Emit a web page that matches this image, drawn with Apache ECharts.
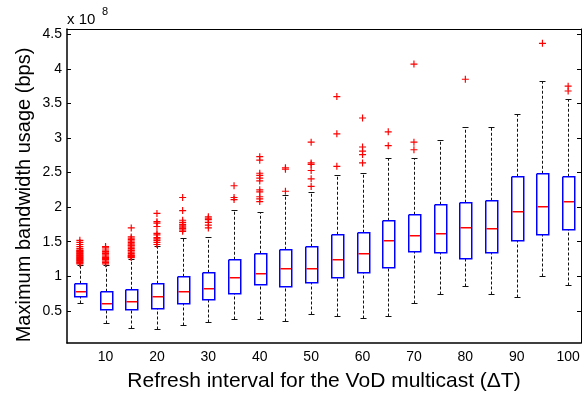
<!DOCTYPE html>
<html><head><meta charset="utf-8">
<script src="https://cdn.jsdelivr.net/npm/echarts@6/dist/echarts.min.js"></script>
<style>html,body{margin:0;padding:0;background:#fff}#c{width:584px;height:393px}</style>
</head><body><div id="c"></div>
<script>
// Values in units of 1e8 bps
const categories = ['5','10','15','20','25','30','35','40','45','50','55','60','65','70','75','80','85','90','95','100'];
const whiskerLow  = [0.62,0.32,0.25,0.24,0.30,0.34,0.38,0.38,0.36,0.45,0.42,0.40,0.42,0.61,0.74,0.865,0.75,0.70,1.01,0.87];
const q1          = [0.72,0.52,0.52,0.54,0.62,0.667,0.76,0.884,0.855,0.92,0.986,1.068,1.135,1.366,1.35,1.265,1.35,1.53,1.61,1.69];
const median      = [0.79,0.62,0.64,0.71,0.79,0.83,0.985,1.048,1.12,1.12,1.25,1.33,1.52,1.60,1.63,1.71,1.70,1.94,2.01,2.09];
const q3          = [0.90,0.78,0.81,0.90,1.01,1.058,1.246,1.333,1.40,1.444,1.618,1.647,1.81,1.90,2.04,2.08,2.10,2.45,2.50,2.45];
const whiskerHigh = [1.16,1.16,1.25,1.44,1.555,1.564,1.965,1.936,2.17,2.22,2.46,2.50,2.71,2.71,2.97,3.16,3.16,3.35,3.83,3.57];
const outliers = [
  [1.18,1.19,1.2,1.21,1.22,1.23,1.24,1.25,1.26,1.27,1.28,1.29,1.3,1.31,1.32,1.33,1.34,1.35,1.36,1.37,1.38,1.4,1.43,1.46,1.49,1.52],
  [1.18,1.2,1.22,1.24,1.26,1.27,1.29,1.31,1.33,1.34,1.36,1.38,1.41,1.43],
  [1.27,1.28,1.29,1.3,1.31,1.33,1.35,1.37,1.38,1.4,1.42,1.44,1.45,1.47,1.49,1.51,1.53,1.55,1.57,1.70],
  [1.46,1.49,1.52,1.54,1.56,1.6,1.62,1.72,1.77,1.79,1.91],
  [1.65,1.67,1.69,1.71,1.73,1.75,1.78,1.81,1.95,2.14],
  [1.70,1.74,1.78,1.82,1.84,1.86],
  [2.11,2.14,2.31],
  [2.08,2.12,2.15,2.22,2.25,2.38,2.42,2.46,2.49,2.68,2.73],
  [2.23,2.55,2.57],
  [2.30,2.41,2.53,2.62,2.64,2.94],
  [2.59,3.06,3.60],
  [2.64,2.76,2.81,2.87,3.29],
  [2.89,3.09],
  [2.83,2.94,4.07],
  [],
  [3.85],
  [],
  [],
  [4.37],
  [3.68,3.75]
];
const yTicks = [0.5,1,1.5,2,2.5,3,3.5,4,4.5];
const yMin = 0.035, yMax = 4.577;

const boxData = categories.map((c, i) => [i, whiskerLow[i], q1[i], median[i], q3[i], whiskerHigh[i]]);
const outlierData = [];
outliers.forEach((arr, i) => arr.forEach(v => outlierData.push([i, v])));

function renderBox(params, api) {
  const i = api.value(0);
  const cx = api.coord([i, api.value(3)])[0];
  const n = Math.round(cx);
  const x = n + 0.5;
  const P = v => Math.round(api.coord([i, v])[1]);
  const yl = P(api.value(1)) + 0.5, y1 = P(api.value(2)), ym = P(api.value(3)), y3 = P(api.value(4)), yh = P(api.value(5)) + 0.5;
  const o = 0.75, hw = 6, cw = 3;
  const dash = () => ({stroke: '#111111', lineWidth: 1, lineDash: [3, 2], fill: 'none'});
  const solid = () => ({stroke: '#111111', lineWidth: 1, fill: 'none'});
  const L = n - hw + o, R = n + hw + o, T = y3 + o, B = y1 + o;
  return {type: 'group', silent: true, children: [
    {type: 'line', shape: {x1: x, y1: T, x2: x, y2: yh}, style: dash()},
    {type: 'line', shape: {x1: x, y1: yl, x2: x, y2: B}, style: dash()},
    {type: 'line', shape: {x1: x - cw, y1: yh, x2: x + cw, y2: yh}, style: solid()},
    {type: 'line', shape: {x1: x - cw, y1: yl, x2: x + cw, y2: yl}, style: solid()},
    {type: 'polyline', shape: {points: [[L, T], [R, T], [R, B], [L, B], [L, T]]},
     style: {stroke: '#0000ff', lineWidth: 1.5, fill: 'none', lineJoin: 'miter'}},
    {type: 'line', shape: {x1: L + 0.75, y1: ym + o, x2: R - 0.75, y2: ym + o}, style: {stroke: '#ff0000', lineWidth: 1.5, fill: 'none'}}
  ]};
}

const FONT = 'Liberation Sans, Arial, Helvetica, sans-serif';
const chart = echarts.init(document.getElementById('c'), null, {renderer: 'canvas'});
chart.setOption({
  animation: false,
  backgroundColor: '#fff',
  grid: {left: 67, right: 3, top: 29, bottom: 50, containLabel: false},
  xAxis: [
    {type: 'category', data: categories, boundaryGap: true, position: 'bottom',
     axisLine: {lineStyle: {color: '#000', width: 1.5}},
     axisTick: {inside: true, alignWithLabel: true, interval: 0, length: 4, lineStyle: {color: '#000'}},
     axisLabel: {interval: (idx) => idx % 2 === 1, color: '#000', fontSize: 14, fontFamily: FONT, margin: 7},
     splitLine: {show: false}},
    {type: 'category', data: categories, boundaryGap: true, position: 'top',
     axisLine: {lineStyle: {color: '#000', width: 1}},
     axisTick: {inside: true, alignWithLabel: true, interval: 0, length: 4, lineStyle: {color: '#000'}},
     axisLabel: {show: false}, splitLine: {show: false}}
  ],
  yAxis: [
    {type: 'value', min: yMin, max: yMax, position: 'left',
     axisLine: {show: true, lineStyle: {color: '#000', width: 1.5}},
     axisTick: {show: true, inside: true, length: 4, customValues: yTicks, lineStyle: {color: '#000'}},
     axisLabel: {customValues: yTicks, color: '#000', fontSize: 14, fontFamily: FONT, margin: 5},
     splitLine: {show: false}},
    {type: 'value', min: yMin, max: yMax, position: 'right',
     axisLine: {show: true, lineStyle: {color: '#000', width: 1}},
     axisTick: {show: true, inside: true, length: 4, customValues: yTicks, lineStyle: {color: '#000'}},
     axisLabel: {show: false}, splitLine: {show: false}}
  ],
  series: [
    {type: 'custom', name: 'box', xAxisIndex: 0, yAxisIndex: 0, renderItem: renderBox,
     encode: {x: 0, y: [1, 2, 3, 4, 5]}, data: boxData, z: 3},
    {type: 'scatter', name: 'outliers', xAxisIndex: 0, yAxisIndex: 0, data: outlierData,
     symbol: 'path://M3,0h1.2v3h3v1.2h-3v3h-1.2v-3h-3v-1.2h3z', symbolSize: 7,
     itemStyle: {color: '#ff0000', opacity: 1}, z: 4}
  ],
  graphic: [
    {type: 'text', left: 67, top: 12, style: {text: 'x 10', fontSize: 15, fontFamily: FONT, fill: '#000'}},
    {type: 'text', left: 102, top: 6, style: {text: '8', fontSize: 11, fontFamily: FONT, fill: '#000'}},
    {type: 'text', x: 24, y: 195, rotation: Math.PI / 2,
     style: {text: 'Maximum bandwidth usage (bps)', fontSize: 20, fontFamily: FONT, fill: '#000', align: 'center', verticalAlign: 'middle'}},
    {type: 'text', x: 324, y: 381,
     style: {text: 'Refresh interval for the VoD multicast (\u0394T)', fontSize: 21, fontFamily: FONT, fill: '#000', align: 'center', verticalAlign: 'middle'}}
  ]
});
</script>
</body></html>
